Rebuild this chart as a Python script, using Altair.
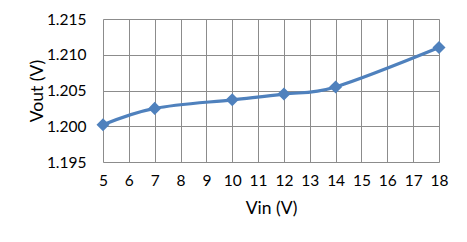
import altair as alt
import pandas as pd

vin = [5, 7, 10, 12, 14, 18]
vout = [1.2002, 1.2025, 1.2037, 1.2045, 1.2055, 1.2110]
x_ticks = list(range(5, 19))
y_ticks = [1.195, 1.200, 1.205, 1.210, 1.215]

df = pd.DataFrame({"Vin": vin, "Vout": vout})

FONT = "Lato"
COLOR = "#4F81BD"
GRID = "#8c8c8c"

x = alt.X("Vin:Q", scale=alt.Scale(domain=[5, 18], nice=False, zero=False),
          axis=alt.Axis(values=x_ticks, title="Vin (V)", grid=True, gridColor=GRID,
                        gridWidth=1, domain=False, ticks=False, labelPadding=11,
                        labelFlush=False, labelOverlap=False,
                        labelFontSize=15.5, titleFontSize=17.5, titleFontWeight="normal",
                        titlePadding=11, labelFont=FONT, titleFont=FONT,
                        labelColor="#000", titleColor="#000"))
y = alt.Y("Vout:Q", scale=alt.Scale(domain=[1.195, 1.215], nice=False, zero=False),
          axis=alt.Axis(values=y_ticks, format=".3f", title="Vout (V)", grid=True,
                        gridColor=GRID, gridWidth=1, domain=False, ticks=False,
                        labelFlush=False, labelOverlap=False,
                        labelPadding=17, labelFontSize=15.5, titleFontSize=17.5,
                        titleFontWeight="normal", titlePadding=0, labelFont=FONT,
                        titleFont=FONT, labelColor="#000", titleColor="#000"))

line = alt.Chart(df).mark_line(color=COLOR, strokeWidth=3.2, interpolate="cardinal").encode(x=x, y=y)
pts = alt.Chart(df).mark_point(shape="diamond", filled=True, color=COLOR, opacity=1, size=170).encode(x=x, y=y)

chart = (line + pts).properties(
    width=336, height=143,
    autosize=alt.AutoSizeParams(type="none"),
    padding={"left": 103, "top": 19, "right": 28, "bottom": 80},
).configure_view(stroke=GRID, strokeWidth=1).configure(background="white")

chart.save("out.html", embed_options={"renderer": "svg", "actions": False})
